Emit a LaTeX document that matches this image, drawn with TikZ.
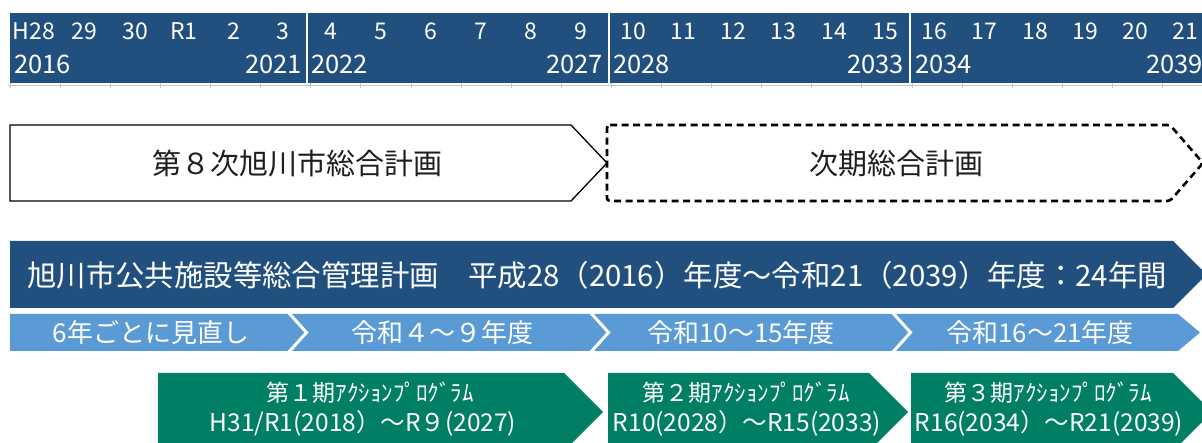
\documentclass[tikz,border=0pt]{standalone}
\usepackage{fontspec}
\setmainfont{Noto Sans CJK JP}
\definecolor{navy}{RGB}{33,80,126}
\definecolor{skyband}{RGB}{91,155,213}
\definecolor{teal}{RGB}{0,127,100}
\definecolor{gridgrey}{RGB}{190,198,210}
\definecolor{inkgrey}{RGB}{30,30,30}
\tikzset{
  yrA/.style={text=white, inner sep=0pt, font=\fontsize{23}{24}\selectfont},
  yrB/.style={text=white, inner sep=0pt, font=\fontsize{25.5}{27}\selectfont},
  plantext/.style={text=inkgrey, inner sep=0pt, font=\fontsize{29}{31}\selectfont},
  bandtext/.style={text=white, inner sep=0pt, font=\fontsize{29.4}{31}\selectfont},
  chevtext/.style={text=white, inner sep=0pt, font=\fontsize{26}{28}\selectfont},
  greenA/.style={text=white, inner sep=0pt, font=\fontsize{23}{25}\selectfont},
  greenB/.style={text=white, inner sep=0pt, font=\fontsize{24.5}{26}\selectfont},
  sepline/.style={white, line width=2pt},
  chevline/.style={white, line width=3pt},
}
\begin{document}
\begin{tikzpicture}[x=1pt,y=-1pt]
\useasboundingbox (0,0) rectangle (1202,443);
\clip (0,0) rectangle (1202,443);

% ---- timeline bar ----
\fill[navy] (10,13) rectangle (1215,83);
\draw[gridgrey, line width=0.8pt] (8,85) -- (1202,85);
\foreach \k in {0,...,23} { \draw[gridgrey, line width=0.6pt] (10+50.1*\k,83) -- (10+50.1*\k,88); }
\draw[sepline] (307,13) -- (307,83);
\draw[sepline] (608.5,13) -- (608.5,83);
\draw[sepline] (910,13) -- (910,83);

\foreach \x/\t [count=\i] in {34/H28,84.5/29,135/30,184/R1,234/2,282.5/3,331/4,381/5,431/6,481/7,531/8,581/9,633.5/10,683/11,733.5/12,783.5/13,834.5/14,885/15,934.5/16,984.5/17,1035/18,1085/19,1135/20,1185/21}
  { \node[yrA] (r\i) at (\x,31) {\t}; }

\node[yrB, anchor=west] (y2016) at (14,64.5) {2016};
\node[yrB, anchor=east] (y2021) at (302,64.5) {2021};
\node[yrB, anchor=west] (y2022) at (311,64.5) {2022};
\node[yrB, anchor=east] (y2027) at (603,64.5) {2027};
\node[yrB, anchor=west] (y2028) at (613,64.5) {2028};
\node[yrB, anchor=east] (y2033) at (904,64.5) {2033};
\node[yrB, anchor=west] (y2034) at (915,64.5) {2034};
\node[yrB, anchor=east] (y2039) at (1203,64.5) {2039};

% ---- comprehensive plans ----
\draw[black, line width=1.3pt, fill=white, line join=miter]
  (10,125) -- (571,125) -- (607,163) -- (571,201) -- (10,201) -- cycle;
\node[plantext] (plan8) at (297,164) {第８次旭川市総合計画};

\draw[black, line width=2.6pt, dash pattern=on 7pt off 4.5pt, rounded corners=3pt]
  (607,125) -- (1170,125) -- (1203,163) -- (1170,201) -- (607,201) -- cycle;
\node[plantext] (nextplan) at (896,164) {次期総合計画};

% ---- facility management plan ----
\fill[navy] (10,241) -- (1173,241) -- (1206.5,274.5) -- (1173,308) -- (10,308) -- cycle;
\node[bandtext, anchor=west] (mgmt) at (27,275)
  {旭川市公共施設等総合管理計画　平成28（2016）年度～令和21（2039）年度：24年間};

% ---- review chevrons ----
\fill[skyband] (10,314) -- (1178,314) -- (1200,332.5) -- (1178,351) -- (10,351) -- cycle;
\draw[chevline] (288,312) -- (306.5,332.5) -- (288,353);
\draw[chevline] (590,312) -- (608.5,332.5) -- (590,353);
\draw[chevline] (892,312) -- (910.5,332.5) -- (892,353);
\node[chevtext] (rv1) at (151,333) {6年ごとに見直し};
\node[chevtext] (rv2) at (442,333) {令和４～９年度};
\node[chevtext] (rv3) at (741,333) {令和10～15年度};
\node[chevtext] (rv4) at (1040,333) {令和16～21年度};

% ---- action programs ----
\fill[teal] (158,373) -- (564,373) -- (603,412) -- (564,451) -- (158,451) -- cycle;
\fill[teal] (608,373) -- (869,373) -- (908,412) -- (869,451) -- (608,451) -- cycle;
\fill[teal] (911,373) -- (1173,373) -- (1212,412) -- (1173,451) -- (911,451) -- cycle;

\node[greenA] (ap1a) at (370,393) {第１期ｱｸｼｮﾝﾌﾟﾛｸﾞﾗﾑ};
\node[greenB] (ap1b) at (363,423) {H31/R1(2018）～R９(2027)};
\node[greenA] (ap2a) at (746,393) {第２期ｱｸｼｮﾝﾌﾟﾛｸﾞﾗﾑ};
\node[greenB] (ap2b) at (747,423) {R10(2028）～R15(2033)};
\node[greenA] (ap3a) at (1048,393) {第３期ｱｸｼｮﾝﾌﾟﾛｸﾞﾗﾑ};
\node[greenB] (ap3b) at (1049,423) {R16(2034）～R21(2039)};
\end{tikzpicture}
\end{document}
